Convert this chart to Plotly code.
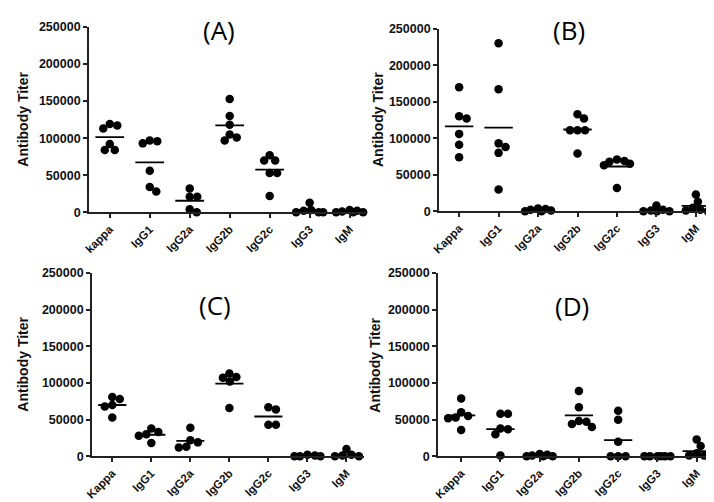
import math
import numpy as np
import plotly.graph_objects as go

# ---------------- data ----------------
cats_A = ["kappa", "IgG1", "IgG2a", "IgG2b", "IgG2c", "IgG3", "IgM"]
cats = ["Kappa", "IgG1", "IgG2a", "IgG2b", "IgG2c", "IgG3", "IgM"]
y_ticks = [0, 50000, 100000, 150000, 200000, 250000]

A_kappa = [117000, 113000, 119000, 92000, 84000, 84000]
A_IgG1 = [97000, 93000, 96000, 56000, 28000, 34000]
A_IgG2a = [32000, 21000, 21000, 0, 4000]
A_IgG2b = [153000, 130000, 118000, 105000, 97000, 101000]
A_IgG2c = [77000, 70000, 70000, 53000, 53000, 22000]
A_IgG3 = [0, 0, 0, 2000, 13000, 3000]
A_IgM = [2000, 0, 0, 1000, 3000, 0]

B_Kappa = [170000, 127000, 130000, 106000, 91000, 74000]
B_IgG1 = [230000, 167000, 88000, 80000, 93000, 30000]
B_IgG2a = [0, 1000, 2000, 0, 3000, 4000]
B_IgG2b = [127000, 133000, 111000, 111000, 111000, 79000]
B_IgG2c = [68000, 65000, 69000, 71000, 63000, 32000]
B_IgG3 = [0, 0, 0, 1000, 2000, 8000]
B_IgM = [23000, 13000, 5000, 2000, 0, 1000]

C_Kappa = [81000, 78000, 70000, 68000, 53000]
C_IgG1 = [38000, 33000, 30000, 28000, 18000]
C_IgG2a = [39000, 22000, 19000, 13000, 12000]
C_IgG2b = [113000, 107000, 102000, 108000, 66000]
C_IgG2c = [67000, 64000, 43000, 43000]
C_IgG3 = [0, 1000, 0, 2000, 0]
C_IgM = [10000, 1000, 0, 2000, 0]

D_Kappa = [79000, 60000, 55000, 52000, 53000, 36000]
D_IgG1 = [58000, 58000, 37000, 30000, 38000, 1000]
D_IgG2a = [0, 1000, 2000, 0, 3000, 0]
D_IgG2b = [89000, 67000, 48000, 47000, 44000, 40000]
D_IgG2c = [62000, 50000, 20000, 0, 0, 0]
D_IgG3 = [0, 0, 0, 0, 0, 0]
D_IgM = [23000, 14000, 4000, 1000, 1000, 0]

y_title = "Antibody Titer"

panels = [
    dict(label="(A)", cats=cats_A, groups=[A_kappa, A_IgG1, A_IgG2a, A_IgG2b, A_IgG2c, A_IgG3, A_IgM]),
    dict(label="(B)", cats=cats, groups=[B_Kappa, B_IgG1, B_IgG2a, B_IgG2b, B_IgG2c, B_IgG3, B_IgM]),
    dict(label="(C)", cats=cats, groups=[C_Kappa, C_IgG1, C_IgG2a, C_IgG2b, C_IgG2c, C_IgG3, C_IgM]),
    dict(label="(D)", cats=cats, groups=[D_Kappa, D_IgG1, D_IgG2a, D_IgG2b, D_IgG2c, D_IgG3, D_IgM]),
]

# ---------------- layout geometry (pixels) ----------------
W, H = 714, 502
geom = [
    dict(x0=81, x1=358, yt=19, yb=204.3, xr=[-0.52, 6.41], title=(211, 22), ytl=15),
    dict(x0=431, x1=708, yt=20.7, yb=203.3, xr=[-0.51, 6.51], title=(561, 22), ytl=370),
    dict(x0=84, x1=356, yt=265, yb=448.3, xr=[-0.52, 6.45], title=(207, 297), ytl=15),
    dict(x0=430, x1=702, yt=265, yb=448.3, xr=[-0.59, 6.34], title=(564, 298), ytl=367),
]


def swarm(vals, px_cat, px_val, dot=7.5, maxoff=0.34):
    """Beeswarm horizontal offsets (in category units)."""
    step = 0.5
    nmax = int(maxoff * px_cat / step)
    cand = [0.0]
    for k in range(1, nmax + 1):
        cand += [k * step, -k * step]
    placed = []
    res = [0.0] * len(vals)
    order = sorted(range(len(vals)), key=lambda i: -vals[i])
    for i in order:
        y = vals[i] * px_val
        best, bestd = 0.0, -1.0
        for c in cand:
            d = min((math.hypot(c - px, y - py) for px, py in placed), default=1e9)
            if d >= dot:
                best = c
                break
            if d > bestd:
                bestd, best = d, c
        placed.append((best, y))
        res[i] = best / px_cat
    return res


fig = go.Figure()
layout = dict(
    template="none",
    width=W, height=H, margin=dict(l=0, r=0, t=0, b=0, pad=0, autoexpand=False),
    paper_bgcolor="white", plot_bgcolor="white", showlegend=False,
    annotations=[],
)
ytickfont = dict(family="Arial", size=12.5, color="#111", weight="bold")
xtickfont = dict(family="Arial", size=11.5, color="#111", weight="bold")

for k, (p, g) in enumerate(zip(panels, geom)):
    n = "" if k == 0 else str(k + 1)
    xa, ya = "x" + n, "y" + n
    px_cat = (g["x1"] - g["x0"]) / (g["xr"][1] - g["xr"][0])
    px_val = (g["yb"] - g["yt"]) / 250000.0
    xs, ys = [], []
    mx, my = [], []
    for i, vals in enumerate(p["groups"]):
        offs = swarm(vals, px_cat, px_val)
        xs += [i + o for o in offs]
        ys += list(vals)
        m = float(np.mean(vals))
        mx += [i - 0.36, i + 0.36, None]
        my += [m, m, None]
    fig.add_trace(go.Scatter(x=mx, y=my, mode="lines", xaxis=xa, yaxis=ya,
                             line=dict(color="black", width=1.8), cliponaxis=False,
                             hoverinfo="skip"))
    fig.add_trace(go.Scatter(x=xs, y=ys, mode="markers", xaxis=xa, yaxis=ya,
                             marker=dict(color="black", size=8.5, line=dict(width=0)),
                             cliponaxis=False))
    layout["xaxis" + n] = dict(
        domain=[g["x0"] / W, g["x1"] / W], anchor=ya, range=g["xr"], automargin=False,
        tickmode="array", tickvals=list(range(len(p["cats"]))), ticktext=p["cats"],
        tickangle=-45, tickfont=xtickfont, showgrid=False, zeroline=False,
        showline=True, linecolor="#222", linewidth=1.8,
        ticks="outside", ticklen=4, tickwidth=1.5, tickcolor="#222",
    )
    layout["yaxis" + n] = dict(
        domain=[1 - g["yb"] / H, 1 - g["yt"] / H], anchor=xa, range=[0, 250000],
        automargin=False,
        tickmode="array", tickvals=y_ticks, ticktext=[str(v) for v in y_ticks],
        tickfont=ytickfont, showgrid=False, zeroline=False,
        showline=True, linecolor="#222", linewidth=1.8,
        ticks="outside", ticklen=4, tickwidth=1.5, tickcolor="#222",
    )
    layout["annotations"].append(dict(
        text=p["label"], x=g["title"][0] / W, y=1 - g["title"][1] / H,
        xref="paper", yref="paper", showarrow=False, xanchor="center", yanchor="middle",
        font=dict(family="Open Sans", size=26, color="black"),
    ))
    layout["annotations"].append(dict(
        text=y_title, x=g["ytl"] / W, y=1 - (g["yt"] + g["yb"]) / 2 / H,
        xref="paper", yref="paper", showarrow=False, textangle=-90,
        xanchor="center", yanchor="middle",
        font=dict(family="Arial", size=14, color="#111", weight="bold"),
    ))

fig.update_layout(**layout)
fig.write_html("out.html")
